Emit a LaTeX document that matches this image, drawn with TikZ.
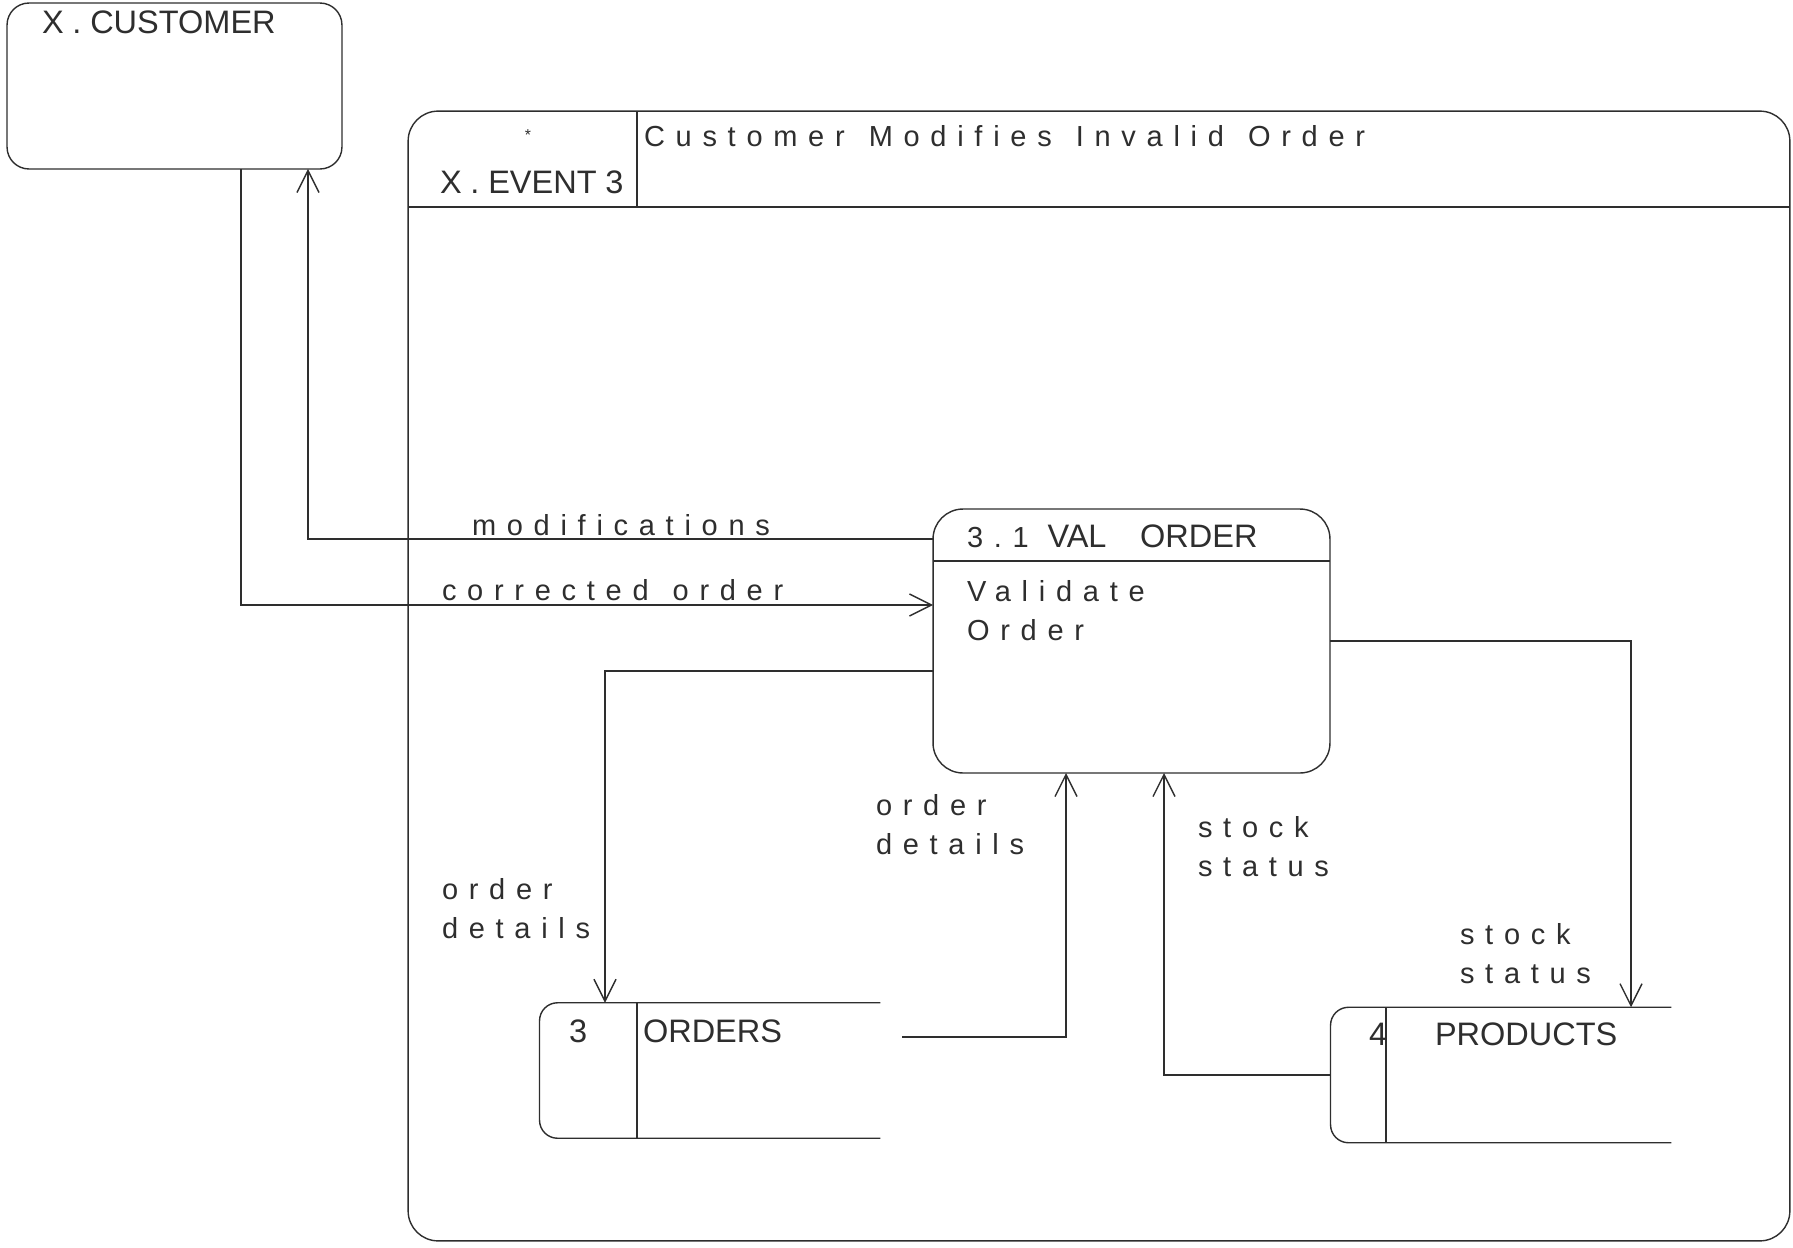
\documentclass[tikz,border=0pt]{standalone}
\usepackage{fontspec}
\setmainfont{Liberation Sans}
\newfontfamily\spacedfont[LetterSpace=37]{Liberation Sans}
\usetikzlibrary{arrows.meta}
\definecolor{ink}{HTML}{2E2E2E}

\begin{document}
\begin{tikzpicture}[x=0.02cm, y=-0.02cm, line width=0.8pt, color=ink,
  every node/.style={inner sep=0pt, outer sep=0pt},
  box/.style={draw, rounded corners=0.6cm},
  store/.style={minimum width=6.82cm, minimum height=2.71cm},
  caps/.style={font=\fontsize{18.5}{22}\selectfont, anchor=base west},
  flow/.style={font=\spacedfont\fontsize{16.5}{22}\selectfont, anchor=base west, align=left},
  arr/.style={-{Straight Barb[length=0.44cm, width=0.44cm]}}]
\useasboundingbox (0,0) rectangle (1793,1248);
%
% --- Terminator and event frame ---
\node[box, rounded corners=0.44cm, minimum width=6.7cm, minimum height=3.32cm] (cust) at (174.5,86) {};
\node[box, minimum width=27.64cm, minimum height=22.6cm] (event) at (1099,676) {};
\draw (event.west |- 0,207) -- (event.east |- 0,207);
\draw (event.north -| 637,0) -- (637,207);
%
% --- Process 3.1 ---
\node[box, minimum width=7.94cm, minimum height=5.28cm] (proc) at (1131.5,641) {};
\draw (proc.west |- 0,561) -- (proc.east |- 0,561);
%
% --- Data stores (open on the right) ---
\node[store] (orders) at (710,1070.5) {};
\node[store] (products) at (1501,1075) {};
\draw[rounded corners=0.36cm] (orders.north east) -- (orders.north west) -- (orders.south west) -- (orders.south east);
\draw (orders.north -| 637,0) -- (orders.south -| 637,0);
\draw[rounded corners=0.36cm] (products.north east) -- (products.north west) -- (products.south west) -- (products.south east);
\draw (products.north -| 1386,0) -- (products.south -| 1386,0);
%
% --- Texts ---
\node[caps] (custtxt) at (42,33) {X\hspace{5pt}.\hspace{5pt}CUSTOMER};
\node[font=\small] (star) at (528,135) {*};
\node[caps] (evtxt) at (440,193) {X\hspace{5pt}.\hspace{5pt}EVENT\hspace{5pt}3};
\node[flow] (evtitle) at (644,146) {Customer\hspace{3pt} Modifies\hspace{3pt} Invalid\hspace{3pt} Order};
\node[caps] (proctxt) at (967,547) {{\spacedfont\fontsize{16.5}{22}\selectfont 3.1 }VAL\hspace{14pt} ORDER};
\node[flow] (procdesc) at (967,640) {Validate\\Order};
\node[caps] (ordnum) at (569,1042) {3};
\node[caps] (ordtxt) at (643,1042) {ORDERS};
\node[caps] (prodnum) at (1369,1045) {4};
\node[caps] (prodtxt) at (1435,1045) {PRODUCTS};
%
% --- Flows ---
\draw[arr] (proc.west |- 0,539) -| (cust.south -| 308,0);
\draw[arr] (cust.south -| 241,0) |- (proc.west |- 0,605);
\draw[arr] (proc.west |- 0,671) -| (orders.north -| 605,0);
\draw[arr] ([shift={(22,-33.5)}]orders.east) -| (proc.south -| 1066,0);
\draw[arr] (products.west) -| (proc.south -| 1164,0);
\draw[arr] (proc.east) -| (products.north -| 1631,0);
%
% --- Flow labels ---
\node[flow] (lmod) at (472,535) {modifications};
\node[flow] (lcorr) at (442,600) {corrected\hspace{3pt} order};
\node[flow] (lord1) at (442,938) {order\\details};
\node[flow] (lord2) at (876,854) {order\\details};
\node[flow] (lstock1) at (1198,876) {stock\\status};
\node[flow] (lstock2) at (1460,983) {stock\\status};
%
\end{tikzpicture}
\end{document}
